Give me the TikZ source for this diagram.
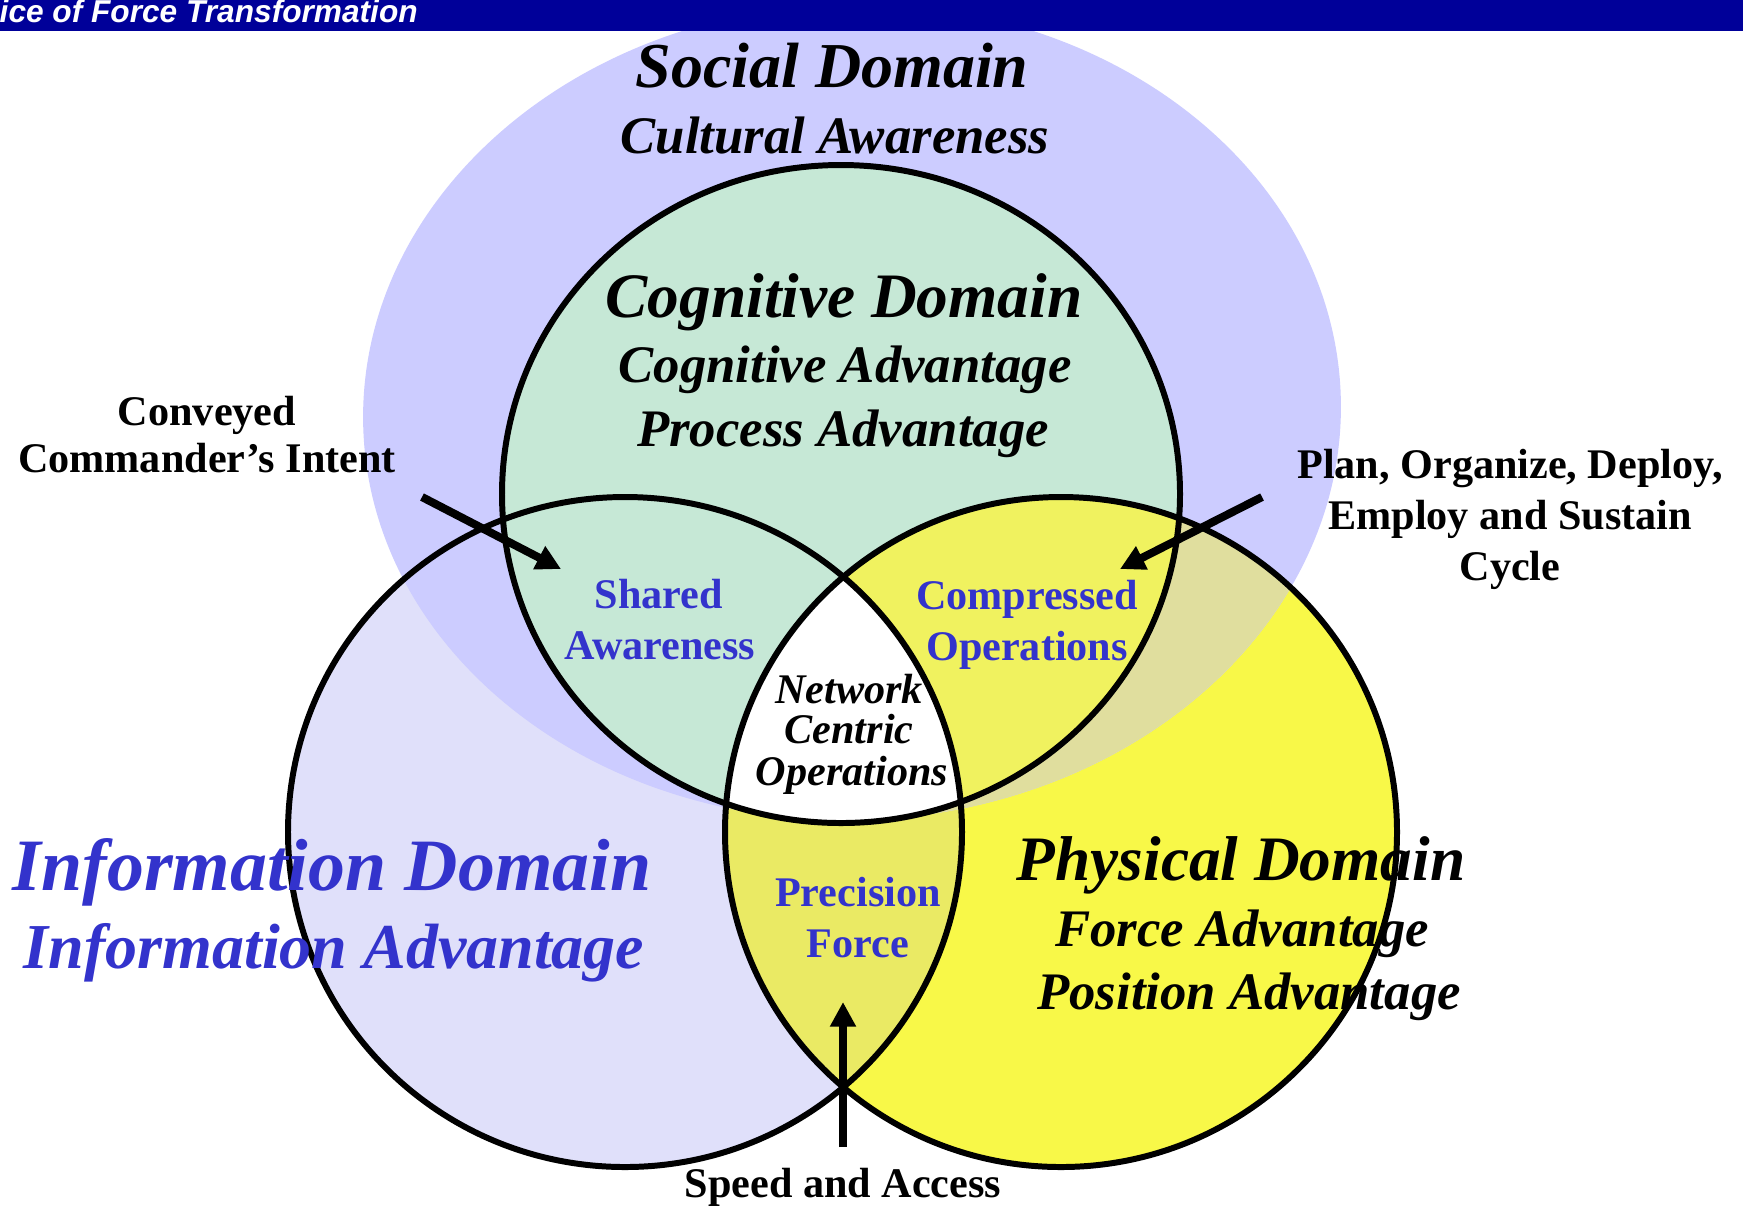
\documentclass[tikz,border=0pt]{standalone}
\usepackage{fontspec}
\setmainfont{Liberation Serif}
\newfontfamily\barfont{Liberation Sans}
\usetikzlibrary{arrows.meta}

\definecolor{barblue}{RGB}{0,0,153}
\definecolor{socialc}{RGB}{204,204,255}
\definecolor{infoc}{RGB}{224,224,250}
\definecolor{physc}{RGB}{248,248,72}
\definecolor{mixc}{RGB}{234,234,100}
\definecolor{physsoc}{RGB}{224,222,158}
\definecolor{cogc}{RGB}{198,232,214}
\definecolor{cogphys}{RGB}{240,242,95}
\definecolor{textblue}{RGB}{51,51,204}

\tikzset{
  dom/.style={anchor=base,inner sep=0pt,font=\fontsize{18}{20}\selectfont\bfseries\itshape},
  adv/.style={anchor=base,inner sep=0pt,font=\fontsize{15}{17}\selectfont\bfseries\itshape},
  lens/.style={anchor=base,inner sep=0pt,text=textblue,font=\fontsize{12}{14}\selectfont\bfseries},
  note/.style={anchor=base,inner sep=0pt,font=\fontsize{12}{14}\selectfont\bfseries},
}

\begin{document}
\begin{tikzpicture}[x=0.01cm,y=-0.01cm]
\useasboundingbox (0,0) rectangle (1743,1205);
\fill[white] (0,0) rectangle (1743,1205);
\coordinate (I) at (625,832);
\coordinate (P) at (1061,832);
\coordinate (C) at (841,494);
\coordinate (S) at (852,412);
% domains
\fill[infoc] (I) ellipse [x radius=337,y radius=335];
\fill[physc] (P) ellipse [x radius=336,y radius=335];
\begin{scope}
    \clip (I) ellipse [x radius=337,y radius=335];
    \fill[mixc] (P) ellipse [x radius=336,y radius=335];
\end{scope}
\fill[socialc,rotate around={2:(S)}] (S) ellipse [x radius=489,y radius=408];
\begin{scope}
    \clip[rotate around={2:(S)}] (S) ellipse [x radius=489,y radius=408];
    \fill[physsoc] (P) ellipse [x radius=336,y radius=335];
\end{scope}
\fill[cogc] (C) ellipse [x radius=339,y radius=329];
\begin{scope}
    \clip (C) ellipse [x radius=339,y radius=329];
    \fill[cogphys] (P) ellipse [x radius=336,y radius=335];
    \clip (I) ellipse [x radius=337,y radius=335];
    \fill[white] (P) ellipse [x radius=336,y radius=335];
\end{scope}
\begin{scope}[line width=1.7pt]
    \draw (I) ellipse [x radius=337,y radius=335];
    \draw (P) ellipse [x radius=336,y radius=335];
    \draw (C) ellipse [x radius=339,y radius=329];
\end{scope}
% header
\fill[barblue] (0,0) rectangle (1743,31);
\node[anchor=base west,inner sep=0pt,text=white,font=\barfont\fontsize{9}{10}\selectfont\bfseries\itshape] (T) at (-1,22) {ice of Force Transformation};
% labels
\node[dom,font=\fontsize{18.2}{20}\selectfont\bfseries\itshape] (S1) at (832,87) {Social Domain};
\node[adv] (S2) at (835,153) {Cultural Awareness};
\node[dom] (C1) at (844,317) {Cognitive Domain};
\node[adv] (C2) at (845,382) {Cognitive Advantage};
\node[adv] (C3) at (843,446) {Process Advantage};
\node[dom,text=textblue,font=\fontsize{21}{23}\selectfont\bfseries\itshape] (I1) at (332,890) {Information Domain};
\node[dom,text=textblue,font=\fontsize{18.2}{20}\selectfont\bfseries\itshape] (I2) at (334,968) {Information Advantage};
\node[dom] (P1) at (1241,880) {Physical Domain};
\node[adv] (P2) at (1242,946) {Force Advantage};
\node[adv] (P3) at (1249,1009) {Position Advantage};
\begin{scope}[every node/.style={anchor=base,inner sep=0pt,font=\fontsize{12}{14}\selectfont\bfseries\itshape}]
    \node (N1) at (849,703) {Network};
    \node (N2) at (849,743) {Centric};
    \node (N3) at (852,785) {Operations};
\end{scope}
\node[lens] (A1) at (659,608) {Shared};
\node[lens] (A2) at (660,659) {Awareness};
\node[lens] (O1) at (1027,609) {Compressed};
\node[lens] (O2) at (1027,660) {Operations};
\node[lens] (F1) at (858,906) {Precision};
\node[lens] (F2) at (858,957) {Force};
\node[note] (K1) at (207,425) {Conveyed};
\node[note] (K2) at (207,472) {Commander’s Intent};
\node[note] (L1) at (1510,478) {Plan, Organize, Deploy,};
\node[note] (L2) at (1510,529) {Employ and Sustain};
\node[note] (L3) at (1510,580) {Cycle};
\node[note] (V) at (843,1197) {Speed and Access};
% arrows
\coordinate (Ka) at (422,497);
\coordinate (Kb) at (561,569);
\coordinate (La) at (1262,497);
\coordinate (Lb) at (1120,569);
\coordinate (Va) at (843,1147);
\coordinate (Vb) at (843,1002);
\begin{scope}[>={Triangle[length=7pt,width=7pt]},
              every edge/.style={draw=black,line width=2.3pt}]
    \path [->] (Ka) edge (Kb);
    \path [->] (La) edge (Lb);
    \path [->] (Va) edge (Vb);
\end{scope}
\end{tikzpicture}
\end{document}
